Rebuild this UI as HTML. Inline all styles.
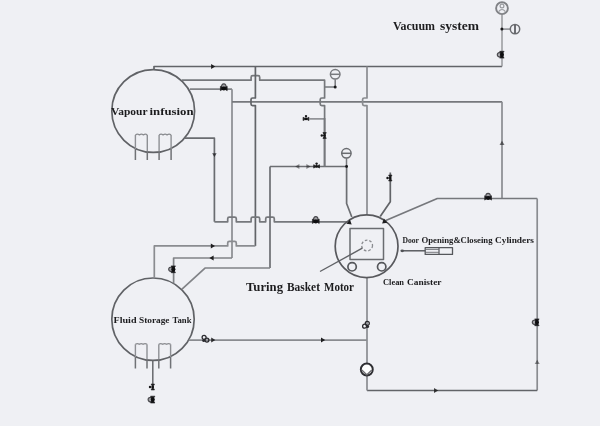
<!DOCTYPE html>
<html><head><meta charset="utf-8">
<style>
html,body{margin:0;padding:0;background:#eff0f4;}
body{width:600px;height:426px;overflow:hidden;}
svg{display:block;will-change:transform;}
text{font-family:"Liberation Serif",serif;font-weight:bold;fill:#1c1c1e;}
</style></head><body>
<svg width="600" height="426" viewBox="0 0 600 426">
<defs>
<g id="v">
<path d="M-2.3 -1.2 Q-2.4 -4.7 0 -4.7 Q2.4 -4.7 2.3 -1.2 Z" fill="#a4a4a8" stroke="#48484c" stroke-width="1.2"/>
<path d="M-3.4 -2.3 L3.4 2.1 V-2.3 L-3.4 2.1 Z" fill="#1a1a1c" stroke="#1a1a1c" stroke-width="0.6" stroke-linejoin="round"/>
<ellipse rx="2.2" ry="2" fill="#0e0e10"/>
</g>
<g id="gv">
<path d="M-3.3 -1.9 L3.3 1.9 V-1.9 L-3.3 1.9 Z" fill="#1e1e20" stroke="#1e1e20" stroke-width="0.8" stroke-linejoin="round"/>
<path d="M0 0 V-2.4" stroke="#2a2a2c" stroke-width="1.0"/>
<circle cx="0" cy="-3.2" r="1.35" fill="#1a1a1c"/>
<circle r="1.4" fill="#111"/>
</g>
<g id="lv">
<circle cx="-1.2" cy="-1.6" r="2" fill="none" stroke="#2a2a2e" stroke-width="1.3"/>
<circle cx="1.6" cy="1.1" r="2" fill="none" stroke="#2a2a2e" stroke-width="1.3"/>
<circle cx="-1.6" cy="1.4" r="1.5" fill="#2a2a2e"/>
</g>
<path id="ar" d="M-2.2 -2.5 L2 0 L-2.2 2.5 Z" fill="#1e1e20"/>
</defs>
<g fill="none" stroke-linejoin="round" stroke-linecap="butt">
<circle cx="153.2" cy="111.0" r="41.4" stroke="#606266" stroke-width="1.7" />
<path d="M135.4 149 V134.9 M147.3 151.5 V134.9 M159.1 151.5 V134.9 M171.1 149 V134.9" stroke="#8e9094" stroke-width="1.4" />
<path d="M135.4 160 V149 M147.3 160 V151.5 M159.1 160 V151.5 M171.1 160 V149" stroke="#707276" stroke-width="1.5" />
<path d="M135.4 134.9 Q137.4 133.4 139.4 134.9 Q141.4 133.4 143.4 134.9 Q145.4 133.4 147.3 134.9 M159.1 134.9 Q161.1 133.4 163.1 134.9 Q165.1 133.4 167.1 134.9 Q169.1 133.4 171.1 134.9" stroke="#8a8c90" stroke-width="1.3" />
<circle cx="153" cy="319.2" r="41.2" stroke="#606266" stroke-width="1.7" />
<path d="M135.4 357 V344.3 M147.0 359.5 V344.3 M158.8 359.5 V344.3 M170.6 357 V344.3" stroke="#8e9094" stroke-width="1.4" />
<path d="M135.4 368.4 V357 M147.0 368.4 V359.5 M158.8 368.4 V359.5 M170.6 368.4 V357" stroke="#707276" stroke-width="1.5" />
<path d="M135.4 344.3 Q137.4 342.8 139.3 344.3 Q141.2 342.8 143.1 344.3 Q145 342.8 147.0 344.3 M158.8 344.3 Q160.8 342.8 162.7 344.3 Q164.6 342.8 166.6 344.3 Q168.6 342.8 170.6 344.3" stroke="#8a8c90" stroke-width="1.3" />
<path d="M152.8 360.4 V384" stroke="#66686c" stroke-width="1.5" />
<path d="M154 70 V66.5 H502.0" stroke="#626468" stroke-width="1.7" />
<path d="M502.0 66.5 V14.6" stroke="#8a8c90" stroke-width="1.3" />
<circle cx="502.0" cy="8.2" r="5.9" stroke="#808286" stroke-width="1.9" />
<circle cx="502.0" cy="6.0" r="1.9" stroke="#9a9ca0" stroke-width="1.2" />
<path d="M498.6 11.6 Q502 7.4 505.4 11.6" stroke="#9a9ca0" stroke-width="1.2" />
<path d="M502 29.1 H510.3" stroke="#8a8c90" stroke-width="1.5" />
<circle cx="515" cy="29.1" r="4.7" stroke="#6a6c70" stroke-width="1.5" />
<path d="M515 25 V33.2" stroke="#55575b" stroke-width="1.7" />
<path d="M181.7 80.2 H251.10 V77.20 Q251.10 75.60 252.70 75.60 H258.10 Q259.70 75.60 259.70 77.20 V80.20 H324.6 V98.00 H321.80 Q320.20 98.00 320.20 99.60 V104.00 Q320.20 105.60 321.80 105.60 H324.60 V166.5" stroke="#76787c" stroke-width="1.7" />
<path d="M309.5 118.9 H324.6" stroke="#7a7c80" stroke-width="1.4" />
<path d="M324.6 87.1 H335.2 V79.2" stroke="#76787c" stroke-width="1.5" />
<circle cx="335.2" cy="74.3" r="4.8" stroke="#787a7e" stroke-width="1.5" />
<path d="M330.6 74.3 H339.8" stroke="#787a7e" stroke-width="1.5" />
<path d="M190 89.2 H232.0" stroke="#818387" stroke-width="1.7" />
<path d="M232.0 89.2 V258.0" stroke="#8a8c90" stroke-width="1.7" />
<path d="M232.0 258.0 H173.6 V283.2" stroke="#818387" stroke-width="1.7" />
<path d="M232.0 101.8 H502.0" stroke="#76787c" stroke-width="1.7" />
<path d="M502.0 101.8 V198.3" stroke="#8a8c90" stroke-width="1.7" />
<path d="M255.4 66.5 V98.00 H252.60 Q251.00 98.00 251.00 99.60 V104.00 Q251.00 105.60 252.60 105.60 H255.40 V245.9" stroke="#626468" stroke-width="1.7" />
<path d="M255.4 245.9 H236.30 V242.90 Q236.30 241.30 234.70 241.30 H229.30 Q227.70 241.30 227.70 242.90 V245.90 H154.3 V278.2" stroke="#8a8c90" stroke-width="1.7" />
<path d="M367.0 66.5 V98.00 H364.20 Q362.60 98.00 362.60 99.60 V104.00 Q362.60 105.60 364.20 105.60 H367.00 V214.6" stroke="#8a8c90" stroke-width="1.7" />
<path d="M184.6 138.2 H214.4 V221.8" stroke="#6a6c70" stroke-width="1.7" />
<path d="M214.4 221.8 H227.70 V218.80 Q227.70 217.20 229.30 217.20 H234.70 Q236.30 217.20 236.30 218.80 V221.80 H251.10 V218.80 Q251.10 217.20 252.70 217.20 H258.10 Q259.70 217.20 259.70 218.80 V221.80 H265.70 V218.80 Q265.70 217.20 267.30 217.20 H272.70 Q274.30 217.20 274.30 218.80 V221.80 H347" stroke="#76787c" stroke-width="1.7" />
<path d="M270.0 166.5 V268.0" stroke="#6c6e72" stroke-width="1.7" />
<path d="M270.0 268.0 H205 L182 289.2" stroke="#818387" stroke-width="1.7" />
<path d="M270.0 166.5 H346.6 V203.5 L351.8 217" stroke="#6c6e72" stroke-width="1.7" />
<circle cx="346.4" cy="153.3" r="4.7" stroke="#6a6c70" stroke-width="1.5" />
<path d="M341.8 153.3 H351" stroke="#6a6c70" stroke-width="1.5" />
<path d="M346.5 158 V166.5" stroke="#76787c" stroke-width="1.5" />
<path d="M324.6 118 V166.5" stroke="#76787c" stroke-width="1.7" />
<path d="M390.3 172.5 V201.7 L380.2 216.6" stroke="#626468" stroke-width="1.7" />
<path d="M384.6 221.0 L437.3 198.5 H537.2" stroke="#76787c" stroke-width="1.7" />
<path d="M537.2 198.5 V390.5" stroke="#8a8c90" stroke-width="1.7" />
<path d="M537.2 390.5 H367" stroke="#626468" stroke-width="1.7" />
<path d="M367 390.5 V277.6" stroke="#8a8c90" stroke-width="1.7" />
<circle cx="366.6" cy="246.2" r="31.4" stroke="#58595d" stroke-width="1.7" />
<rect x="350" y="228.6" width="33.5" height="31" stroke="#6a6c70" stroke-width="1.5"/>
<circle cx="367.1" cy="245.5" r="5.4" stroke="#8a8c90" stroke-width="1.3" stroke-dasharray="2.6 1.9"/>
<circle cx="352.1" cy="266.8" r="4.2" stroke="#55575b" stroke-width="1.7" />
<circle cx="381.7" cy="266.8" r="4.2" stroke="#55575b" stroke-width="1.7" />
<path d="M362.3 248.2 L320 271.5" stroke="#606266" stroke-width="1.4" />
<path d="M188.8 340.1 H367" stroke="#8a8c90" stroke-width="1.7" />
<path d="M403 250.8 H425.2" stroke="#505256" stroke-width="1.4" />
<ellipse cx="402.2" cy="250.8" rx="1.8" ry="1.4" fill="#505256" stroke="none"/>
<rect x="425.2" y="247.6" width="27.3" height="6.8" stroke="#55575b" stroke-width="1.3"/>
<path d="M439 247.6 V254.4" stroke="#55575b" stroke-width="1.2" />
<path d="M425.2 249.4 H439 M425.2 252.3 H439" stroke="#6a6c70" stroke-width="0.9" />
</g>
<circle cx="366.8" cy="369.5" r="6" fill="#fff" stroke="#2e2e32" stroke-width="1.9"/>
<path d="M361.8 370 L366.8 374.8 L371.8 370" fill="none" stroke="#6a6a6e" stroke-width="1.2"/>
<g fill="#18181a">
<circle cx="501.9" cy="29.1" r="1.5"/>
<circle cx="335.2" cy="87.1" r="1.5"/>
<circle cx="346.6" cy="166.5" r="1.4"/>
</g>
<use href="#v" transform="translate(223.8,88.6) rotate(0) scale(1.0)"/>
<use href="#v" transform="translate(315.8,221.4) rotate(0) scale(1.0)"/>
<use href="#v" transform="translate(488.1,198.0) rotate(0) scale(1.0)"/>
<use href="#gv" transform="translate(306.0,118.9) rotate(0) scale(0.88)"/>
<use href="#gv" transform="translate(316.6,166.4) rotate(0) scale(0.88)"/>
<use href="#gv" transform="translate(324.6,135.5) rotate(-90) scale(0.88)"/>
<use href="#gv" transform="translate(390.3,178.0) rotate(-90) scale(0.88)"/>
<use href="#v" transform="translate(173.4,269.3) rotate(-90) scale(1.0)"/>
<use href="#v" transform="translate(537.0,322.3) rotate(-90) scale(1.0)"/>
<use href="#v" transform="translate(502.0,54.7) rotate(-90) scale(1.0)"/>
<use href="#gv" transform="translate(152.8,387.0) rotate(-90) scale(0.88)"/>
<use href="#v" transform="translate(152.8,399.6) rotate(-90) scale(1.0)"/>
<use href="#lv" transform="translate(205.3,339.0) rotate(0) scale(1.0)"/>
<use href="#lv" transform="translate(366.2,325.0) rotate(-90) scale(1.0)"/>
<use href="#ar" transform="translate(213.3,66.5) rotate(0) scale(1.0)" opacity="1.0"/>
<use href="#ar" transform="translate(436.2,390.5) rotate(0) scale(1.0)" opacity="0.85"/>
<use href="#ar" transform="translate(323.2,340.1) rotate(0) scale(1.0)" opacity="1.0"/>
<use href="#ar" transform="translate(213.4,340.1) rotate(0) scale(1.0)" opacity="0.9"/>
<use href="#ar" transform="translate(213.0,245.9) rotate(0) scale(1.0)" opacity="1.0"/>
<use href="#ar" transform="translate(211.4,258.0) rotate(180) scale(1.0)" opacity="1.0"/>
<use href="#ar" transform="translate(214.4,155.2) rotate(90) scale(0.9)" opacity="0.75"/>
<use href="#ar" transform="translate(502.0,142.8) rotate(-90) scale(1.0)" opacity="0.6"/>
<use href="#ar" transform="translate(537.2,361.8) rotate(-90) scale(1.0)" opacity="0.5"/>
<use href="#ar" transform="translate(297.2,166.4) rotate(180) scale(1.0)" opacity="0.5"/>
<use href="#ar" transform="translate(308.6,166.4) rotate(0) scale(1.0)" opacity="0.5"/>
<use href="#ar" transform="translate(350.0,223.2) rotate(40) scale(1.1)" opacity="1"/>
<use href="#ar" transform="translate(383.8,222.2) rotate(140) scale(1.1)" opacity="1"/>
<text x="393.00" y="29.9" font-size="12.3" textLength="42.00" lengthAdjust="spacingAndGlyphs">Vacuum</text>
<text x="440.00" y="29.9" font-size="12.3" textLength="39.00" lengthAdjust="spacingAndGlyphs">system</text>
<text x="111.00" y="115.0" font-size="11.3" textLength="36.50" lengthAdjust="spacingAndGlyphs">Vapour</text>
<text x="149.50" y="115.0" font-size="11.3" textLength="44.00" lengthAdjust="spacingAndGlyphs">infusion</text>
<text x="246.00" y="291.3" font-size="12.2" textLength="37.00" lengthAdjust="spacingAndGlyphs">Turing</text>
<text x="287.00" y="291.3" font-size="12.2" textLength="33.00" lengthAdjust="spacingAndGlyphs">Basket</text>
<text x="324.00" y="291.3" font-size="12.2" textLength="30.00" lengthAdjust="spacingAndGlyphs">Motor</text>
<text x="113.50" y="322.75" font-size="9.0" textLength="23.00" lengthAdjust="spacingAndGlyphs">Fluid</text>
<text x="139.00" y="322.75" font-size="9.0" textLength="30.50" lengthAdjust="spacingAndGlyphs">Storage</text>
<text x="172.50" y="322.75" font-size="9.0" textLength="19.00" lengthAdjust="spacingAndGlyphs">Tank</text>
<text x="402.50" y="243.4" font-size="9.0" textLength="16.50" lengthAdjust="spacingAndGlyphs">Door</text>
<text x="421.50" y="243.4" font-size="9.0" textLength="71.00" lengthAdjust="spacingAndGlyphs">Opening&amp;Closeing</text>
<text x="495.00" y="243.4" font-size="9.0" textLength="39.00" lengthAdjust="spacingAndGlyphs">Cylinders</text>
<text x="383.00" y="284.5" font-size="8.5" textLength="21.00" lengthAdjust="spacingAndGlyphs">Clean</text>
<text x="407.00" y="284.5" font-size="8.5" textLength="34.50" lengthAdjust="spacingAndGlyphs">Canister</text>
</svg>
</body></html>
